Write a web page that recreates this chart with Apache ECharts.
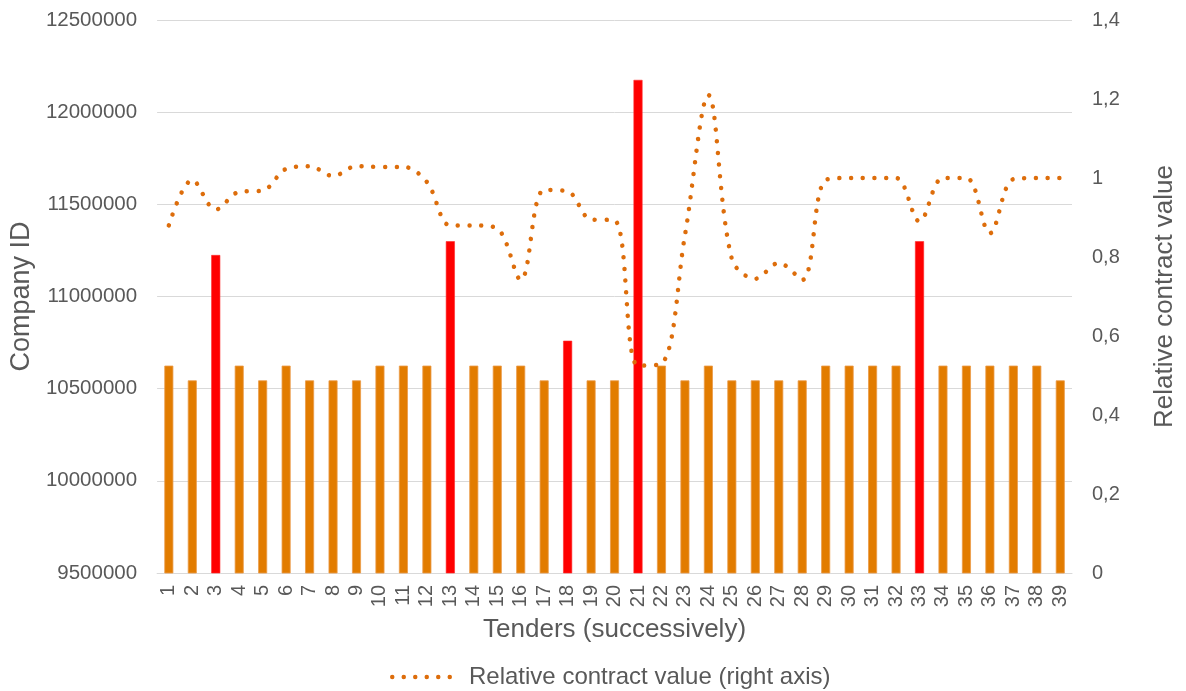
<!DOCTYPE html>
<html>
<head>
<meta charset="utf-8">
<script src="https://cdn.jsdelivr.net/npm/echarts@6/dist/echarts.min.js"></script>
<style>
  html, body { margin: 0; padding: 0; background: #fff; overflow: hidden; }
  #chart { width: 1186px; height: 691px; }
</style>
</head>
<body>
<div id="chart"></div>
<script>
// Tender numbers along the category axis
const tenders = ['1','2','3','4','5','6','7','8','9','10','11','12','13','14','15','16','17','18','19','20',
  '21','22','23','24','25','26','27','28','29','30','31','32','33','34','35','36','37','38','39'];

// Winning company ID per tender (left axis)
const companyIds = [10625000, 10545000, 11225000, 10625000, 10545000, 10625000, 10545000, 10545000, 10545000, 10625000,
  10625000, 10625000, 11300000, 10625000, 10625000, 10625000, 10545000, 10760000, 10545000, 10545000,
  12175000, 10625000, 10545000, 10625000, 10545000, 10545000, 10545000, 10545000, 10625000, 10625000,
  10625000, 10625000, 11300000, 10625000, 10625000, 10625000, 10625000, 10625000, 10545000];

// Tenders won by a different company (highlighted bars)
const flaggedTenders = ['3', '13', '18', '21', '33'];

// Relative contract value per tender (right axis)
const relativeValues = [0.88, 0.995, 0.92, 0.965, 0.968, 1.023, 1.03, 1.005, 1.03, 1.028,
  1.028, 0.99, 0.88, 0.88, 0.872, 0.742, 0.97, 0.966, 0.895, 0.893,
  0.525, 0.53, 0.855, 1.21, 0.795, 0.745, 0.785, 0.742, 0.995, 1.0,
  1.0, 1.0, 0.89, 1.0, 1.0, 0.86, 0.997, 1.0, 1.0];

const lineName = 'Relative contract value (right axis)';
const FONT = '"Liberation Sans", Arial, sans-serif';
const TEXT = '#595959';
const ORANGE = '#E27C00';
const DOT = '#DD6D0B';

// Six round dots for the legend marker
function dotsPath() {
  const r = 2.25, step = 11.5;
  let d = '';
  for (let k = 0; k < 6; k++) {
    const cx = r + k * step;
    d += 'M' + (cx - r) + ',' + r + 'a' + r + ',' + r + ' 0 1,0 ' + (2 * r) + ',0' +
         'a' + r + ',' + r + ' 0 1,0 ' + (-2 * r) + ',0 ';
  }
  return 'path://' + d;
}

function commaDecimal(v) {
  if (Math.abs(v - Math.round(v)) < 1e-9) return String(Math.round(v));
  return v.toFixed(1).replace('.', ',');
}

const chart = echarts.init(document.getElementById('chart'), null, { renderer: 'canvas', width: 1186, height: 691 });

chart.setOption({
  animation: false,
  backgroundColor: '#ffffff',
  textStyle: { fontFamily: FONT },
  grid: { left: 153, right: 104, top: 20, bottom: 118, containLabel: false },
  legend: {
    data: [lineName],
    top: 660,
    left: 385,
    icon: dotsPath(),
    itemWidth: 62,
    itemHeight: 4.5,
    itemStyle: { color: DOT },
    textStyle: { color: TEXT, fontSize: 24, fontFamily: FONT, padding: [0, 0, 0, 12] }
  },
  xAxis: {
    type: 'category',
    data: tenders,
    name: 'Tenders (successively)',
    nameLocation: 'middle',
    nameGap: 44,
    nameTextStyle: { color: TEXT, fontSize: 26, fontFamily: FONT },
    axisLine: { lineStyle: { color: '#D9D9D9', width: 1 } },
    axisTick: { show: false },
    axisLabel: { color: TEXT, fontSize: 20, fontFamily: FONT, rotate: 90, margin: 12, interval: 0 }
  },
  yAxis: [
    {
      type: 'value',
      min: 9500000,
      max: 12500000,
      interval: 500000,
      name: 'Company ID',
      nameLocation: 'middle',
      nameRotate: 90,
      nameGap: 109,
      nameTextStyle: { color: TEXT, fontSize: 27, fontFamily: FONT },
      axisLine: { show: false },
      axisTick: { show: false },
      axisLabel: { color: TEXT, fontSize: 20.5, fontFamily: FONT, margin: 20, formatter: v => String(v) },
      splitLine: { lineStyle: { color: '#D9D9D9', width: 1 } }
    },
    {
      type: 'value',
      min: 0,
      max: 1.4,
      interval: 0.2,
      name: 'Relative contract value',
      nameLocation: 'middle',
      nameRotate: 90,
      nameGap: 80,
      nameTextStyle: { color: TEXT, fontSize: 26, fontFamily: FONT },
      axisLine: { show: false },
      axisTick: { show: false },
      axisLabel: { color: TEXT, fontSize: 20, fontFamily: FONT, margin: 20, formatter: commaDecimal },
      splitLine: { show: false }
    }
  ],
  series: [
    {
      name: 'Company ID',
      type: 'bar',
      yAxisIndex: 0,
      barWidth: 9,
      data: companyIds.map((v, i) => ({
        value: v,
        itemStyle: flaggedTenders.includes(tenders[i])
          ? { color: '#FF0000', borderColor: '#FF2A2A', borderWidth: 0.6 }
          : { color: ORANGE, borderColor: '#EB9A48', borderWidth: 0.8 }
      }))
    },
    {
      name: lineName,
      type: 'line',
      yAxisIndex: 1,
      data: relativeValues,
      smooth: 0.35,
      symbol: 'none',
      z: 5,
      lineStyle: { color: DOT, width: 4.5, type: [0.01, 11.7], cap: 'round' },
      itemStyle: { color: DOT }
    }
  ]
});
</script>
</body>
</html>
